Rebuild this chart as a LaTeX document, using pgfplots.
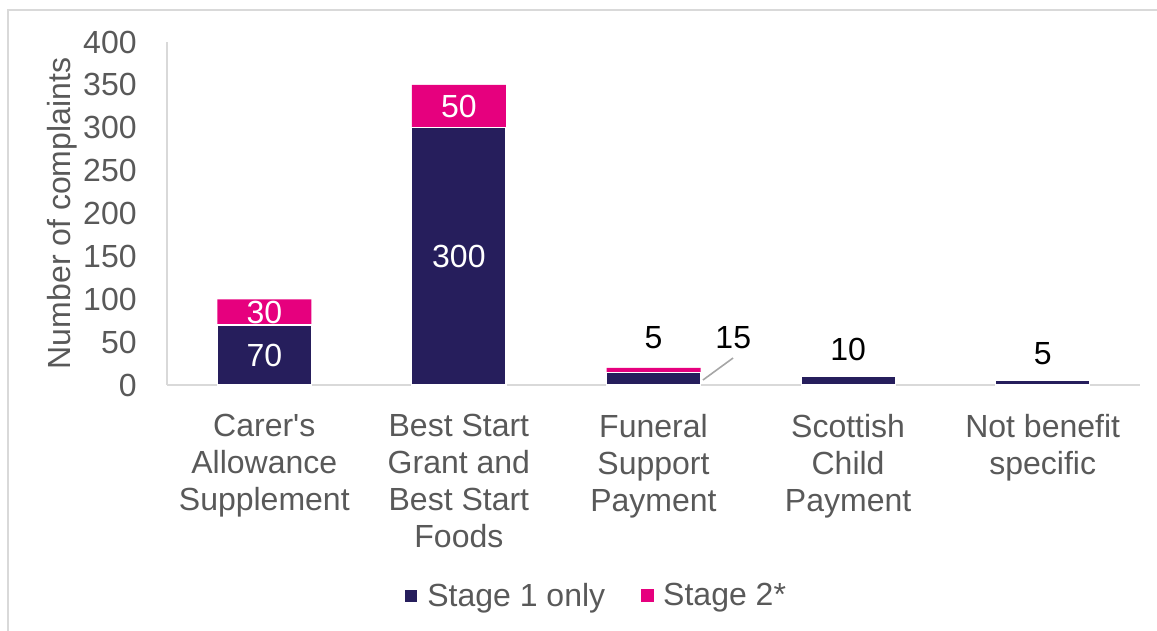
\documentclass[border=0pt]{standalone}
\usepackage{pgfplots}
\pgfplotsset{compat=1.18}
\usepackage{fontspec}
\setmainfont{Liberation Sans}
\definecolor{navy}{HTML}{261E5C}
\definecolor{pinkk}{HTML}{E6007E}
\definecolor{txtgray}{HTML}{595959}
\definecolor{axgray}{HTML}{D9D9D9}
\definecolor{leadgray}{HTML}{A6A6A6}
\newcommand{\lblfont}{\fontsize{16}{18.5}\selectfont}
\begin{document}
\begin{tikzpicture}[x=1pt,y=1pt]
\useasboundingbox (-83.5,-123) rectangle (495,192.5);
\draw[axgray, line width=1pt] (-79.5,-123) -- (-79.5,187.5) -- (495,187.5);
\begin{axis}[
  at={(0,0)}, anchor=south west,
  scale only axis, width=486.5pt, height=171.5pt,
  ybar stacked, bar width=47pt,
  xmin=-0.5, xmax=4.5, ymin=0, ymax=400,
  ytick={0,50,...,400},
  xtick={0,1,2,3,4},
  xticklabels={{Carer\textquotesingle s\\Allowance\\Supplement},{Best Start\\Grant and\\Best Start\\Foods},{Funeral\\Support\\Payment},{Scottish\\Child\\Payment},{Not benefit\\specific}},
  axis x line*=bottom, axis y line*=left,
  axis line style={axgray, line width=1pt, -},
  major tick length=0pt,
  /pgf/number format/assume math mode=true,
  tick label style={font=\lblfont, text=txtgray},
  yticklabel style={anchor=east, inner sep=0pt, xshift=-15pt},
  xticklabel style={align=center, anchor=north, inner sep=0pt, yshift=-14.5pt},
  ylabel={Number of complaints},
  every axis y label/.style={at={(axis description cs:0,0.5)}, xshift=-52.5pt, rotate=90, anchor=center, font=\lblfont, text=txtgray},
  legend style={at={(0.442,-0.615)}, anchor=center, draw=none, fill=none,
    legend columns=2, font=\lblfont, text=txtgray,
    /tikz/every even column/.append style={column sep=16pt}},
  legend image code/.code={\fill[#1] (0pt,-3.25pt) rectangle (6.5pt,3.25pt); \path (9pt,0pt);},
  clip=false,
]
\addplot[fill=navy, draw=white, line width=0.6pt] coordinates {(0,70) (1,300) (2,15) (3,10) (4,5)};
\addplot[fill=pinkk, draw=none] coordinates {(0,30) (1,50) (2,5) (3,0) (4,0)};
\legend{Stage 1 only, Stage 2*}
\coordinate (a1) at (axis cs:0,35);
\coordinate (a2) at (axis cs:0,85);
\coordinate (b1) at (axis cs:1,150);
\coordinate (b2) at (axis cs:1,325);
\coordinate (c2) at (axis cs:2,55);
\coordinate (cl0) at (axis cs:2.254,5.8);
\coordinate (cl1) at (axis cs:2.409,31.5);
\coordinate (c1) at (axis cs:2.41,55);
\coordinate (d1) at (axis cs:3,41);
\coordinate (e1) at (axis cs:4,37);
\end{axis}
\node[white, font=\lblfont] at (a1) {70};
\node[white, font=\lblfont] at (a2) {30};
\node[white, font=\lblfont] at (b1) {300};
\node[white, font=\lblfont] at (b2) {50};
\node[black, font=\lblfont] at (c2) {5};
\draw[leadgray, line width=0.8pt] (cl0) -- (cl1);
\node[black, font=\lblfont] at (c1) {15};
\node[black, font=\lblfont] at (d1) {10};
\node[black, font=\lblfont] at (e1) {5};
\end{tikzpicture}
\end{document}
